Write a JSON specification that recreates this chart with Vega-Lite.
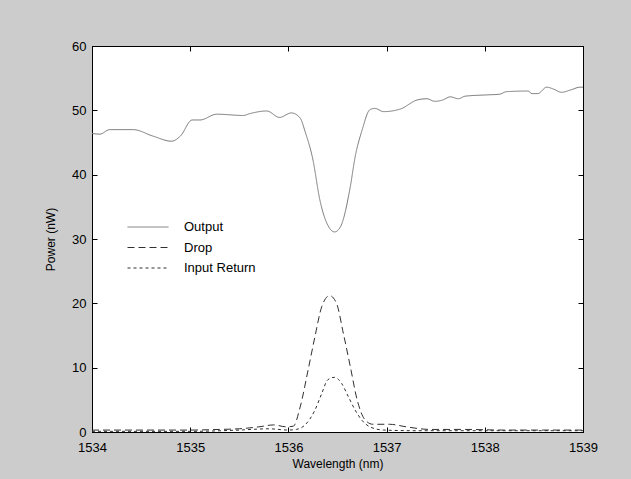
{
  "$schema": "https://vega.github.io/schema/vega-lite/v6.json",
  "autosize": "none",
  "width": 491,
  "height": 386,
  "padding": {"left": 92, "top": 46, "right": 48, "bottom": 47},
  "background": "#cccccc",
  "config": {
    "view": {"fill": "white", "stroke": "black", "strokeWidth": 1},
    "font": "Liberation Sans",
    "axis": {"grid": false, "domainColor": "black", "tickColor": "black", "labelColor": "black", "titleColor": "black", "labelFont": "Liberation Sans", "titleFont": "Liberation Sans", "labelFontSize": 13, "titleFontSize": 12, "titleFontWeight": "normal", "tickSize": -5, "labelFlush": false, "labelOverlap": false}
  },
  "data": {"values": [
    {"w": 1534.0, "p": 46.4, "s": "Output"},
    {"w": 1534.08, "p": 46.3, "s": "Output"},
    {"w": 1534.18, "p": 47.0, "s": "Output"},
    {"w": 1534.42, "p": 47.0, "s": "Output"},
    {"w": 1534.62, "p": 46.0, "s": "Output"},
    {"w": 1534.81, "p": 45.2, "s": "Output"},
    {"w": 1534.9, "p": 46.0, "s": "Output"},
    {"w": 1535.02, "p": 48.5, "s": "Output"},
    {"w": 1535.1, "p": 48.5, "s": "Output"},
    {"w": 1535.27, "p": 49.4, "s": "Output"},
    {"w": 1535.54, "p": 49.2, "s": "Output"},
    {"w": 1535.61, "p": 49.5, "s": "Output"},
    {"w": 1535.78, "p": 49.9, "s": "Output"},
    {"w": 1535.91, "p": 48.9, "s": "Output"},
    {"w": 1536.03, "p": 49.6, "s": "Output"},
    {"w": 1536.12, "p": 48.8, "s": "Output"},
    {"w": 1536.17, "p": 46.7, "s": "Output"},
    {"w": 1536.25, "p": 42.3, "s": "Output"},
    {"w": 1536.32, "p": 36.1, "s": "Output"},
    {"w": 1536.41, "p": 31.9, "s": "Output"},
    {"w": 1536.47, "p": 31.1, "s": "Output"},
    {"w": 1536.53, "p": 31.9, "s": "Output"},
    {"w": 1536.63, "p": 38.1, "s": "Output"},
    {"w": 1536.68, "p": 42.8, "s": "Output"},
    {"w": 1536.75, "p": 46.9, "s": "Output"},
    {"w": 1536.83, "p": 50.1, "s": "Output"},
    {"w": 1536.88, "p": 50.3, "s": "Output"},
    {"w": 1536.97, "p": 49.8, "s": "Output"},
    {"w": 1537.14, "p": 50.2, "s": "Output"},
    {"w": 1537.31, "p": 51.6, "s": "Output"},
    {"w": 1537.41, "p": 51.8, "s": "Output"},
    {"w": 1537.49, "p": 51.4, "s": "Output"},
    {"w": 1537.57, "p": 51.6, "s": "Output"},
    {"w": 1537.65, "p": 52.1, "s": "Output"},
    {"w": 1537.73, "p": 51.8, "s": "Output"},
    {"w": 1537.8, "p": 52.2, "s": "Output"},
    {"w": 1538.02, "p": 52.4, "s": "Output"},
    {"w": 1538.15, "p": 52.5, "s": "Output"},
    {"w": 1538.22, "p": 52.9, "s": "Output"},
    {"w": 1538.44, "p": 53.0, "s": "Output"},
    {"w": 1538.48, "p": 52.6, "s": "Output"},
    {"w": 1538.54, "p": 52.6, "s": "Output"},
    {"w": 1538.63, "p": 53.6, "s": "Output"},
    {"w": 1538.7, "p": 53.3, "s": "Output"},
    {"w": 1538.78, "p": 52.8, "s": "Output"},
    {"w": 1538.88, "p": 53.2, "s": "Output"},
    {"w": 1538.97, "p": 53.6, "s": "Output"},
    {"w": 1539.0, "p": 53.6, "s": "Output"},

    {"w": 1534.0, "p": 0.3, "s": "Drop"},
    {"w": 1534.5, "p": 0.3, "s": "Drop"},
    {"w": 1535.0, "p": 0.3, "s": "Drop"},
    {"w": 1535.3, "p": 0.4, "s": "Drop"},
    {"w": 1535.5, "p": 0.5, "s": "Drop"},
    {"w": 1535.7, "p": 0.8, "s": "Drop"},
    {"w": 1535.85, "p": 1.1, "s": "Drop"},
    {"w": 1535.98, "p": 0.8, "s": "Drop"},
    {"w": 1536.05, "p": 0.9, "s": "Drop"},
    {"w": 1536.12, "p": 3.9, "s": "Drop"},
    {"w": 1536.2, "p": 9.6, "s": "Drop"},
    {"w": 1536.27, "p": 14.8, "s": "Drop"},
    {"w": 1536.34, "p": 19.5, "s": "Drop"},
    {"w": 1536.42, "p": 21.2, "s": "Drop"},
    {"w": 1536.49, "p": 20.0, "s": "Drop"},
    {"w": 1536.56, "p": 15.3, "s": "Drop"},
    {"w": 1536.63, "p": 10.2, "s": "Drop"},
    {"w": 1536.7, "p": 5.0, "s": "Drop"},
    {"w": 1536.78, "p": 1.9, "s": "Drop"},
    {"w": 1536.86, "p": 1.2, "s": "Drop"},
    {"w": 1537.03, "p": 1.2, "s": "Drop"},
    {"w": 1537.2, "p": 0.8, "s": "Drop"},
    {"w": 1537.44, "p": 0.4, "s": "Drop"},
    {"w": 1537.8, "p": 0.4, "s": "Drop"},
    {"w": 1538.2, "p": 0.3, "s": "Drop"},
    {"w": 1538.6, "p": 0.3, "s": "Drop"},
    {"w": 1539.0, "p": 0.3, "s": "Drop"},

    {"w": 1534.0, "p": 0.1, "s": "Input Return"},
    {"w": 1535.0, "p": 0.1, "s": "Input Return"},
    {"w": 1535.5, "p": 0.3, "s": "Input Return"},
    {"w": 1535.8, "p": 0.5, "s": "Input Return"},
    {"w": 1536.0, "p": 0.3, "s": "Input Return"},
    {"w": 1536.08, "p": 0.4, "s": "Input Return"},
    {"w": 1536.17, "p": 1.1, "s": "Input Return"},
    {"w": 1536.27, "p": 3.4, "s": "Input Return"},
    {"w": 1536.34, "p": 6.0, "s": "Input Return"},
    {"w": 1536.4, "p": 8.1, "s": "Input Return"},
    {"w": 1536.47, "p": 8.5, "s": "Input Return"},
    {"w": 1536.54, "p": 7.6, "s": "Input Return"},
    {"w": 1536.61, "p": 5.5, "s": "Input Return"},
    {"w": 1536.68, "p": 3.4, "s": "Input Return"},
    {"w": 1536.75, "p": 1.8, "s": "Input Return"},
    {"w": 1536.83, "p": 0.8, "s": "Input Return"},
    {"w": 1536.97, "p": 0.3, "s": "Input Return"},
    {"w": 1537.3, "p": 0.2, "s": "Input Return"},
    {"w": 1538.0, "p": 0.2, "s": "Input Return"},
    {"w": 1539.0, "p": 0.2, "s": "Input Return"}
  ]},
  "layer": [
    {
      "mark": {"type": "line", "strokeWidth": 1, "interpolate": "monotone", "clip": true},
      "encoding": {
        "x": {"field": "w", "type": "quantitative", "scale": {"domain": [1534, 1539], "nice": false, "zero": false},
              "axis": {"title": "Wavelength (nm)", "values": [1534, 1535, 1536, 1537, 1538, 1539], "format": "d", "labelPadding": 14, "titlePadding": 4}},
        "y": {"field": "p", "type": "quantitative", "scale": {"domain": [0, 60], "nice": false},
              "axis": {"title": "Power (nW)", "values": [0, 10, 20, 30, 40, 50, 60], "labelPadding": 11, "titlePadding": 14}},
        "color": {"field": "s", "type": "nominal", "scale": {"domain": ["Output", "Drop", "Input Return"], "range": ["#7a7a7a", "#303030", "#303030"]},
                  "legend": {"title": null, "orient": "none", "legendX": 35, "legendY": 173, "symbolType": "stroke", "symbolSize": 1681, "symbolStrokeWidth": 1, "symbolStrokeColor": "black", "labelFontSize": 13, "labelFont": "Liberation Sans", "labelColor": "black", "labelOffset": 15, "clipHeight": 16, "rowPadding": 4.5}},
        "strokeDash": {"field": "s", "type": "nominal", "scale": {"domain": ["Output", "Drop", "Input Return"], "range": [[1, 0], [7, 4], [3, 3]]}}
      }
    },
    {
      "mark": {"type": "line", "opacity": 0},
      "encoding": {
        "x": {"field": "w", "type": "quantitative", "scale": {"domain": [1534, 1539], "nice": false, "zero": false},
              "axis": {"orient": "top", "title": null, "labels": false, "values": [1534, 1535, 1536, 1537, 1538, 1539]}},
        "y": {"field": "p", "type": "quantitative", "scale": {"domain": [0, 60], "nice": false},
              "axis": {"orient": "right", "title": null, "labels": false, "values": [0, 10, 20, 30, 40, 50, 60]}},
        "detail": {"field": "s"}
      }
    }
  ],
  "resolve": {"axis": {"x": "independent", "y": "independent"}}
}
